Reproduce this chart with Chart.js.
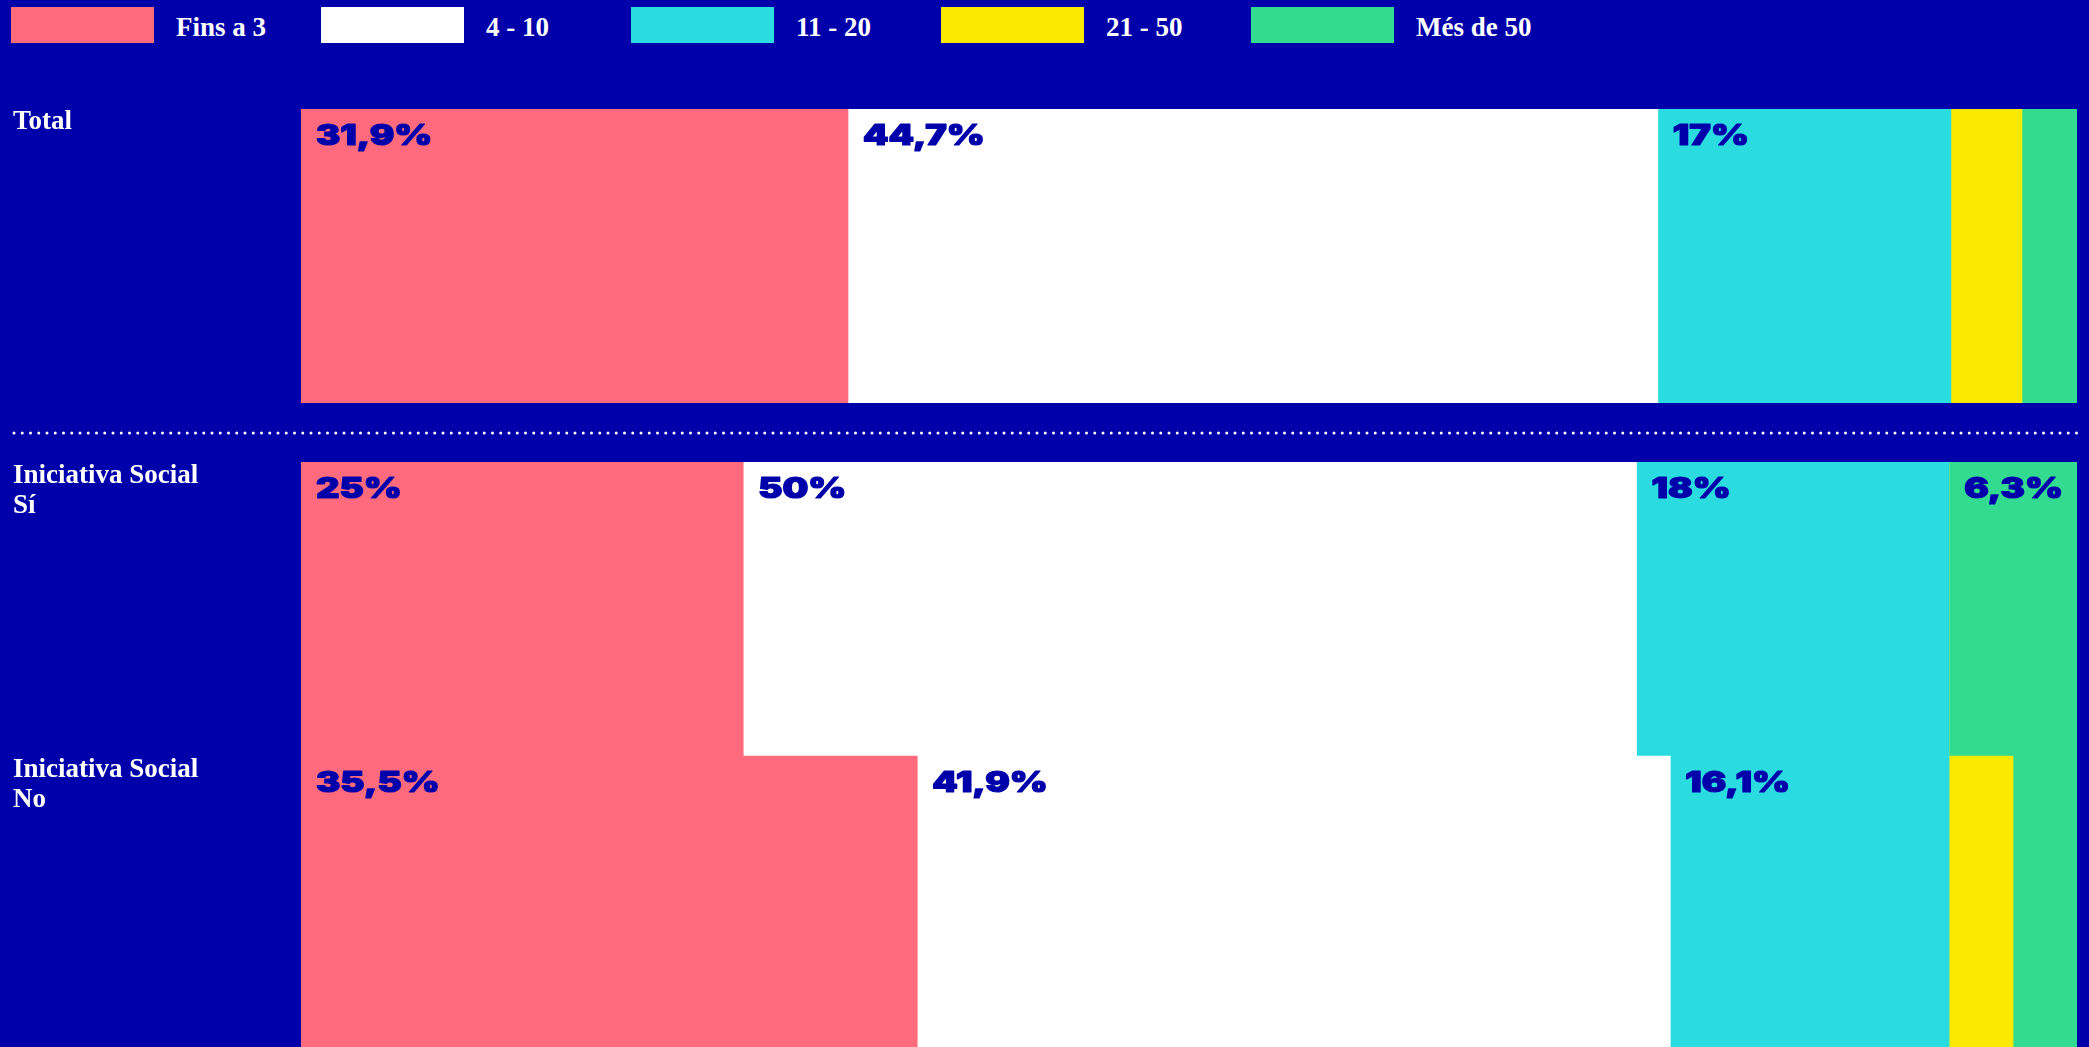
<!DOCTYPE html>
<html>
<head>
<meta charset="utf-8">
<script src="https://cdn.jsdelivr.net/npm/chart.js@4.4.1/dist/chart.umd.min.js"></script>
<style>
  html, body { margin: 0; padding: 0; background: #0000AA; width: 2089px; height: 1047px; overflow: hidden; }
  #legend { position: absolute; left: 11px; top: 7px; display: flex; }
  .item { width: 310px; display: flex; align-items: center; }
  .box { width: 143px; height: 36px; flex: none; }
  .txt { margin-left: 22px; padding-top: 4px; color: #fff; font: bold 27px 'Liberation Serif', serif; white-space: nowrap; }
  #wrapA { position: absolute; left: 0; top: 0; width: 2089px; height: 440px; }
  #wrapB { position: absolute; left: 0; top: 462px; width: 2089px; height: 588px; }
</style>
</head>
<body>
<div id="legend"></div>
<div id="wrapA"><canvas id="chartA"></canvas></div>
<div id="wrapB"><canvas id="chartB"></canvas></div>
<script>
// ---- data ----
const categoriesTop = ['Total'];
const categoriesBottom = [['Iniciativa Social', 'Sí'], ['Iniciativa Social', 'No']];
const seriesNames = ['Fins a 3', '4 - 10', '11 - 20', '21 - 50', 'Més de 50'];
// values per row: Total, Iniciativa Social Sí, Iniciativa Social No
const fins3   = [30.8, 24.9, 34.7];
const de4a10  = [45.6, 50.3, 42.4];
const de11a20 = [16.5, 17.6, 15.7];
const de21a50 = [4.0, 0, 3.6];
const mesDe50 = [3.1, 7.2, 3.6];
// printed labels per row
const fins3Labels   = ['31,9%', '25%', '35,5%'];
const de4a10Labels  = ['44,7%', '50%', '41,9%'];
const de11a20Labels = ['17%', '18%', '16,1%'];
const de21a50Labels = ['', '', ''];
const mesDe50Labels = ['', '6,3%', ''];

// ---- style ----
const BG = '#0000AA';
const colors = ['#FF6B7D', '#FFFFFF', '#2ADCE0', '#FAE900', '#33DB91'];
const seriesValues = [fins3, de4a10, de11a20, de21a50, mesDe50];
const seriesLabels = [fins3Labels, de4a10Labels, de11a20Labels, de21a50Labels, mesDe50Labels];

// legend (HTML)
const legend = document.getElementById('legend');
seriesNames.forEach((n, i) => {
  const it = document.createElement('div'); it.className = 'item';
  const b = document.createElement('div'); b.className = 'box'; b.style.background = colors[i];
  const t = document.createElement('div'); t.className = 'txt'; t.textContent = n;
  it.appendChild(b); it.appendChild(t); legend.appendChild(it);
});

const barLabelPlugin = {
  id: 'barLabels',
  afterDatasetsDraw(chart) {
    const ctx = chart.ctx;
    chart.data.datasets.forEach((ds, i) => {
      const meta = chart.getDatasetMeta(i);
      meta.data.forEach((el, j) => {
        const text = ds.valueLabels[j];
        if (!text) return;
        const p = el.getProps(['x', 'y', 'base', 'height'], true);
        const left = Math.min(p.x, p.base);
        const top = p.y - p.height / 2;
        ctx.save();
        ctx.font = '900 28px Inter, "DejaVu Sans", sans-serif';
        ctx.fillStyle = BG;
        ctx.strokeStyle = BG;
        ctx.lineWidth = 1.2;
        ctx.lineJoin = 'round';
        ctx.textBaseline = 'alphabetic';
        ctx.textAlign = 'left';
        ctx.translate(left + 15, top + 36);
        ctx.scale(1.3, 1);
        ctx.fillText(text, 0, 0);
        ctx.strokeText(text, 0, 0);
        ctx.restore();
      });
    });
  }
};

const dottedPlugin = {
  id: 'dotted',
  afterDraw(chart) {
    const ctx = chart.ctx;
    const y = chart.chartArea.bottom + 30;
    ctx.save();
    ctx.strokeStyle = '#FFFFFF';
    ctx.lineWidth = 3;
    ctx.lineCap = 'round';
    ctx.setLineDash([0, 8.25]);
    ctx.beginPath();
    ctx.moveTo(14, y);
    ctx.lineTo(chart.chartArea.right, y);
    ctx.stroke();
    ctx.restore();
  }
};

function makeDatasets(from, to) {
  return seriesNames.map((n, i) => ({
    label: n,
    data: seriesValues[i].slice(from, to),
    valueLabels: seriesLabels[i].slice(from, to),
    backgroundColor: colors[i],
    borderWidth: 0,
    barPercentage: 1,
    categoryPercentage: 1
  }));
}

function makeOptions(padTop, padBottom, labelOffset) {
  return {
    indexAxis: 'y',
    responsive: true,
    maintainAspectRatio: false,
    animation: false,
    layout: { padding: { top: padTop, bottom: padBottom, left: 13, right: 12 } },
    plugins: { legend: { display: false }, tooltip: { enabled: false } },
    scales: {
      x: { stacked: true, min: 0, max: 100, display: false },
      y: {
        stacked: true,
        grid: { display: false },
        border: { display: false },
        afterFit: (s) => { s.width = 288; s.paddingTop = 0; s.paddingBottom = 0; },
        ticks: {
          color: '#FFFFFF',
          crossAlign: 'far',
          padding: 0,
          labelOffset: labelOffset,
          font: { family: "'Liberation Serif', serif", weight: 'bold', size: 27, lineHeight: 1.1 }
        }
      }
    }
  };
}

new Chart(document.getElementById('chartA'), {
  type: 'bar',
  data: { labels: categoriesTop, datasets: makeDatasets(0, 1) },
  options: makeOptions(109, 37, -134),
  plugins: [barLabelPlugin, dottedPlugin]
});

new Chart(document.getElementById('chartB'), {
  type: 'bar',
  data: { labels: categoriesBottom, datasets: makeDatasets(1, 3) },
  options: makeOptions(0, 0, -118),
  plugins: [barLabelPlugin]
});
</script>
</body>
</html>
